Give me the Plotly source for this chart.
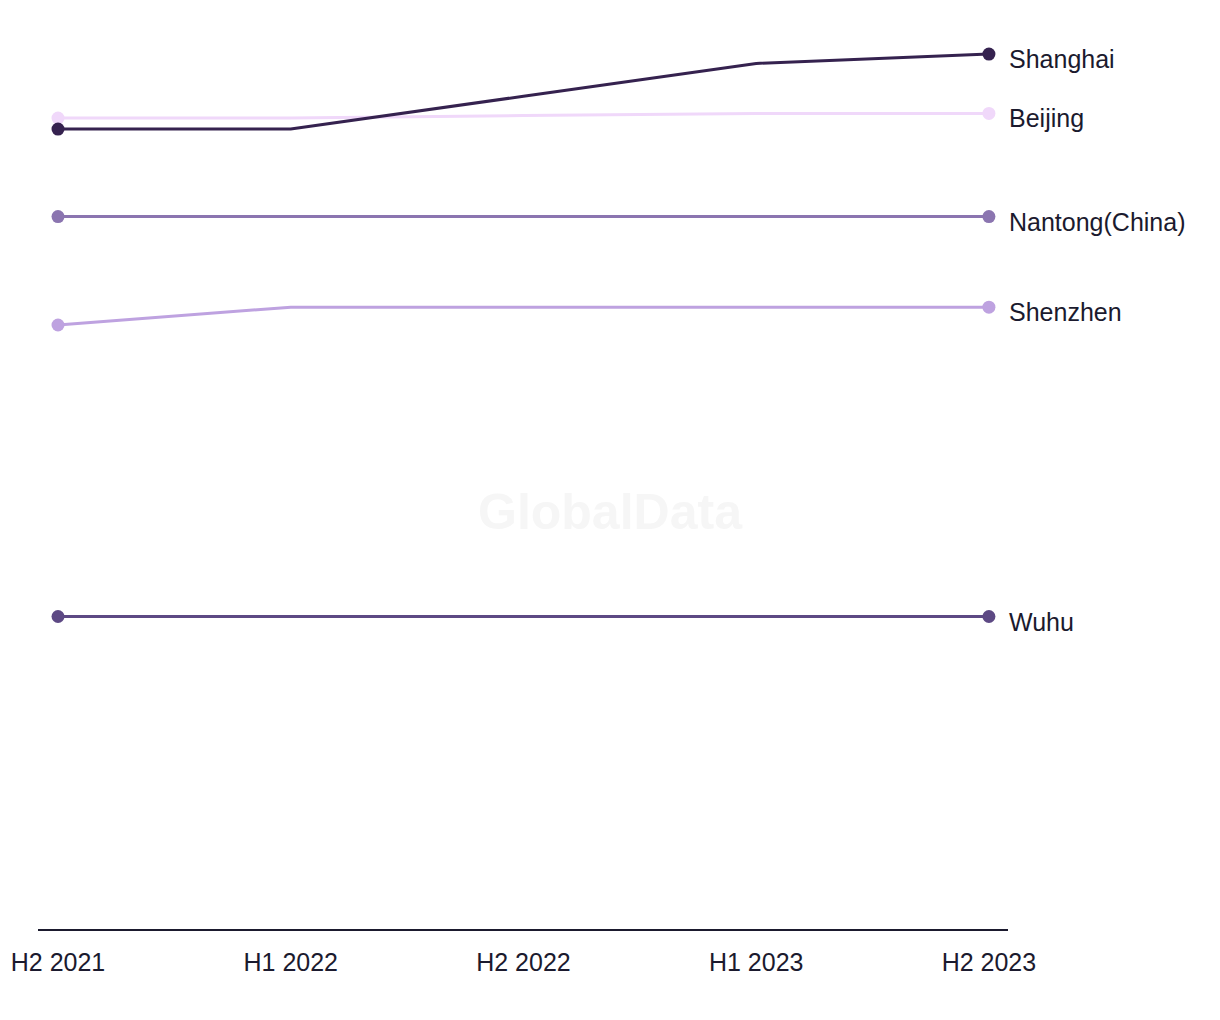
import plotly.graph_objects as go

periods = ["H2 2021", "H1 2022", "H2 2022", "H1 2023", "H2 2023"]
cities = ["Shanghai", "Beijing", "Nantong(China)", "Shenzhen", "Wuhu"]
shanghai = [25.6, 25.6, 26.65, 27.7, 28.0]
beijing = [25.95, 25.95, 26.03, 26.1, 26.1]
nantong = [22.8, 22.8, 22.8, 22.8, 22.8]
shenzhen = [19.33, 19.9, 19.9, 19.9, 19.9]
wuhu = [10.0, 10.0, 10.0, 10.0, 10.0]
colors = ["#35224f", "#f0d8fa", "#8b75b0", "#bea2e0", "#5d4984"]

series = [shanghai, beijing, nantong, shenzhen, wuhu]
text_color = "#1b1a2e"
font_family = "Liberation Sans, Arial, sans-serif"

fig = go.Figure()
xs = list(range(len(periods)))
order = [1, 3, 2, 4, 0]
for i in order:
    vals = series[i]
    c = colors[i]
    fig.add_trace(go.Scatter(
        x=xs, y=vals, mode="lines",
        line=dict(color=c, width=3),
        name=cities[i], showlegend=False, hoverinfo="skip",
    ))
    fig.add_trace(go.Scatter(
        x=[xs[0], xs[-1]], y=[vals[0], vals[-1]], mode="markers",
        marker=dict(color=c, size=13, opacity=1, line=dict(width=0)),
        name=cities[i], showlegend=False, hoverinfo="skip",
    ))
    fig.add_annotation(
        x=xs[-1], y=vals[-1], text=cities[i], showarrow=False,
        xanchor="left", yanchor="middle", xshift=18, yshift=-5,
        font=dict(size=25, color=text_color, family=font_family),
    )

fig.add_annotation(
    x=0.5, y=0.5, xref="paper", yref="paper", text="<b>GlobalData</b>",
    showarrow=False, font=dict(size=50, color="#f6f6f6", family=font_family),
    xshift=87, yshift=-37,
)

fig.update_layout(
    width=1220, height=1020,
    margin=dict(l=30, r=220, t=12, b=99),
    plot_bgcolor="white", paper_bgcolor="white",
    xaxis=dict(
        tickmode="array", tickvals=xs, ticktext=periods,
        range=[-0.086, 4.082], showgrid=False, zeroline=False,
        showline=True, linecolor=text_color, linewidth=2,
        ticks="", ticklabelstandoff=10, automargin=False,
        tickfont=dict(size=25, color=text_color, family=font_family),
    ),
    yaxis=dict(range=[0, 29.09], showgrid=False, zeroline=False,
               showticklabels=False, showline=False, ticks="",
               automargin=False),
)

fig.write_html("out.html")
